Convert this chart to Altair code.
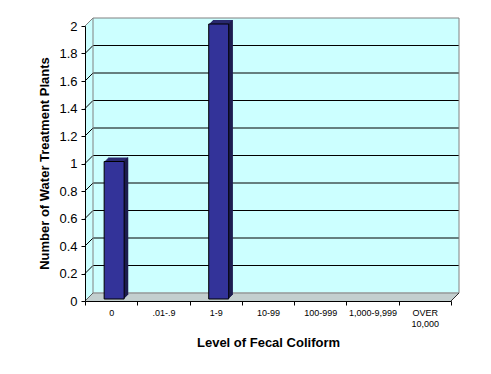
import altair as alt
import pandas as pd

categories = ["0", ".01-.9", "1-9", "10-99", "100-999", "1,000-9,999", "OVER 10,000"]
plants = [1, 0, 2, 0, 0, 0, 0]
y_ticks = [0, 0.2, 0.4, 0.6, 0.8, 1, 1.2, 1.4, 1.6, 1.8, 2]

W, H = 366, 275
D = 8
FONT = "Liberation Sans"
WALL = "#CCFFFF"
FLOOR = "#C0C0C0"
EDGE = "#808080"
BAR = "#333399"
BAR_TOP = "#29296f"
BAR_SIDE = "#1b1b4a"

bars = pd.DataFrame({"level": categories, "plants": plants})
grid = pd.DataFrame({"v": y_ticks[1:-1]})
one = pd.DataFrame({"z": [0]})

ydom = alt.Scale(domain=[0, 2], nice=False, zero=True)
yaxis = alt.Axis(
    title="Number of Water Treatment Plants", values=y_ticks, format=".1~f",
    labelFont=FONT, labelFontSize=13, labelColor="black", labelPadding=4,
    tickSize=4, tickColor="black", domainColor="black", grid=False, zindex=1,
    titleFont=FONT, titleFontSize=13, titleFontWeight="bold", titleColor="black",
    titleX=-41, titleY=137, titleAngle=270, titleAlign="center", titleBaseline="middle",
)
xaxis = alt.Axis(
    title="Level of Fecal Coliform", labelAngle=0, labelFont=FONT, labelFontSize=9,
    labelColor="black", labelPadding=3, labelLineHeight=11,
    labelExpr="split(datum.label, ' ')",
    tickSize=4, tickColor="black", domainColor="black", tickBand="extent", grid=False, zindex=1,
    titleFont=FONT, titleFontSize=13, titleFontWeight="bold", titleColor="black",
    titleY=41, titleBaseline="middle",
)
xenc = alt.X("level:N", sort=categories,
             scale=alt.Scale(domain=categories, paddingInner=0, paddingOuter=0), axis=xaxis)


def yd(v):
    return alt.YDatum(v, type="quantitative", scale=ydom, axis=yaxis)


def y2d(v):
    return alt.Y2Datum(v)


layers = []
# walls (back wall + left side wall) as a swept rectangle
for k in range(D + 1):
    layers.append(alt.Chart(one).mark_rect(fill=WALL, xOffset=k, x2Offset=k, yOffset=-k, y2Offset=-k).encode(
        x=alt.value(0), x2=alt.value(W), y=yd(2), y2=y2d(0)))
# floor
for k in range(D + 1):
    layers.append(alt.Chart(one).mark_rule(color=FLOOR, strokeWidth=1.2, xOffset=k, x2Offset=k, yOffset=-k).encode(
        x=alt.value(0), x2=alt.value(W), y=yd(0)))
# gridlines on back wall
layers.append(alt.Chart(grid).mark_rule(color="black", strokeWidth=1, xOffset=D, x2Offset=D, yOffset=-D).encode(
    x=alt.value(0), x2=alt.value(W), y=alt.Y("v:Q", scale=ydom, axis=yaxis)))
# gridlines on side wall (diagonals)
layers.append(alt.Chart(grid).mark_rule(color="black", strokeWidth=1, x2Offset=D, y2Offset=-D).encode(
    x=alt.value(0), x2=alt.value(0), y=alt.Y("v:Q", scale=ydom, axis=yaxis), y2=alt.Y2("v")))
# wall edges
layers.append(alt.Chart(one).mark_rule(color=EDGE, xOffset=D, x2Offset=D, yOffset=-D).encode(
    x=alt.value(0), x2=alt.value(W), y=yd(2)))
layers.append(alt.Chart(one).mark_rule(color=EDGE, xOffset=D, x2Offset=D, yOffset=-D).encode(
    x=alt.value(0), x2=alt.value(W), y=yd(0)))
layers.append(alt.Chart(one).mark_rule(color=EDGE, xOffset=D, yOffset=-D, y2Offset=-D).encode(
    x=alt.value(0), y=yd(2), y2=y2d(0)))
layers.append(alt.Chart(one).mark_rule(color=EDGE, xOffset=D, yOffset=-D, y2Offset=-D).encode(
    x=alt.value(W), y=yd(2), y2=y2d(0)))
layers.append(alt.Chart(one).mark_rule(color=EDGE, x2Offset=D, y2Offset=-D).encode(
    x=alt.value(0), x2=alt.value(0), y=yd(2), y2=y2d(2)))
layers.append(alt.Chart(one).mark_rule(color="#606060", x2Offset=D, y2Offset=-D).encode(
    x=alt.value(0), x2=alt.value(0), y=yd(0), y2=y2d(0)))
layers.append(alt.Chart(one).mark_rule(color="#303030", x2Offset=D, y2Offset=-D).encode(
    x=alt.value(W), x2=alt.value(W), y=yd(0), y2=y2d(0)))

# 3D bars
base = alt.Chart(bars).transform_filter("datum.plants > 0")
yb = alt.Y("plants:Q", scale=ydom, axis=yaxis)
for k in range(1, 5):
    layers.append(base.mark_bar(size=20, color=BAR_TOP, xOffset=3 + k, yOffset=-2 - k, y2Offset=-2 - k).encode(
        x=xenc, y=yb, y2=y2d(0)))
for k in range(1, 5):
    layers.append(base.mark_rule(color=BAR_SIDE, strokeWidth=1, xOffset=13 + k - 0.5, yOffset=-2 - k, y2Offset=-2 - k).encode(
        x=xenc, y=yb, y2=y2d(0)))
layers.append(base.mark_bar(size=20, color=BAR, stroke="black", strokeWidth=1, xOffset=3, yOffset=-2, y2Offset=-2).encode(
    x=xenc, y=yb, y2=y2d(0)))

chart = alt.layer(*layers).properties(
    width=W, height=H,
    autosize=alt.AutoSizeParams(type="none"),
    padding={"left": 77, "top": 18, "right": 32, "bottom": 57},
    background="white",
).configure_view(stroke=None)

chart.save("out.html", embed_options={"renderer": "svg", "actions": False})
